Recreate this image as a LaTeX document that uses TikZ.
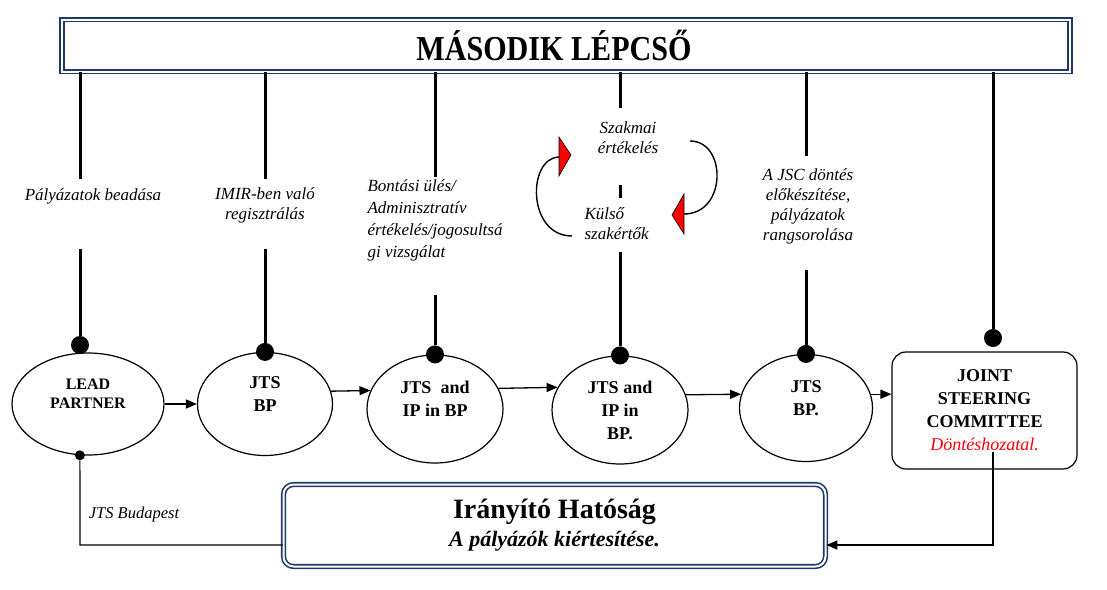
\documentclass[tikz,border=0pt]{standalone}
\usepackage{fontspec}
\setmainfont{Liberation Serif}
\newfontfamily\narrowserif[FakeStretch=0.86]{Liberation Serif}
\usetikzlibrary{shapes.geometric,arrows.meta,positioning}

\definecolor{boxnavy}{HTML}{1F3A68}
\definecolor{decisionred}{HTML}{FF0000}

\tikzset{
  stage/.style={ellipse,draw,line width=1.2pt,inner sep=0pt,align=center,
    font=\fontsize{18}{23}\selectfont\bfseries},
  raised/.style={text depth=20pt},
  stem/.style={line width=3pt},
  knob/.style={circle,fill=black,inner sep=0pt,minimum size=18pt},
  steplabel/.style={align=center,font=\fontsize{17}{20}\selectfont\itshape},
  flow/.style={line width=1.3pt,-{Triangle[length=11pt,width=9pt]}},
  frame/.style={draw=boxnavy,double=white,double distance=2pt,line width=1.6pt},
}

\begin{document}
\begin{tikzpicture}[x=1pt,y=-1pt]
\useasboundingbox (0,0) rectangle (1107,589);
% header
\node[frame,minimum width=1008pt,minimum height=52pt] (title) at (566,45.5)
  {\narrowserif\fontsize{35}{40}\selectfont\bfseries MÁSODIK LÉPCSŐ\hspace*{24pt}};

% stages
\node[stage,raised,minimum width=152pt,minimum height=102pt,font=\fontsize{16}{19}\selectfont\bfseries] (lp) at (88,404) {LEAD\\PARTNER};
\node[stage,raised,minimum width=135pt,minimum height=103pt] (jts1) at (265,404) {JTS\\BP};
\node[stage,raised,minimum width=136pt,minimum height=108pt] (ip1) at (435,409) {JTS~~and\\IP in BP};
\node[stage,minimum width=136pt,minimum height=108pt] (ip2) at (620,410) {JTS and\\IP in\\BP.};
\node[stage,raised,minimum width=133pt,minimum height=107pt] (jts2) at (806,408) {JTS\\BP.};
\node[draw,rounded corners=14pt,line width=1.2pt,minimum width=185pt,minimum height=117pt,align=center,
  font=\fontsize{18}{23}\selectfont\bfseries] (jsc) at (984.5,410.5)
  {JOINT\\STEERING\\COMMITTEE\\{\color{decisionred}\mdseries\itshape Döntéshozatal.}};
\node[frame,rounded corners=10pt,minimum width=542pt,minimum height=82pt,align=center,
  font=\fontsize{22}{28}\selectfont] (ih) at (554.5,525.5)
  {{\fontsize{28}{30}\selectfont\bfseries Irányító Hatóság}\\{\bfseries\itshape A pályázók kiértesítése.}};

% dots on the stages
\node[knob] (k1) at (80,345) {};
\node[knob] (k2) at (jts1.north) {};
\node[knob] (k3) at (ip1.north) {};
\node[knob] (k4) at (ip2.north) {};
\node[knob] (k5) at (jts2.north) {};
\node[knob] (k6) at (993,338) {};
\node[knob,minimum size=10pt] (lpfoot) at (lp.261) {};

% step texts
\node[steplabel] (s1) at (93,196) {Pályázatok beadása};
\node[steplabel] (s2) at (265,205) {IMIR-ben való\\regisztrálás};
\node[steplabel,align=left,anchor=west,font=\fontsize{17}{22}\selectfont\itshape] (s3) at (364,220)
  {Bontási ülés/\\Adminisztratív\\értékelés/jogosultsá\\gi vizsgálat};
\node[steplabel] (s4a) at (628,138) {Szakmai\\értékelés};
\node[steplabel,align=left,anchor=west] (s4b) at (581,224) {Külső\\szakértők};
\node[steplabel] (s5) at (808,206) {A JSC döntés\\előkészítése,\\pályázatok\\rangsorolása};
\node[font=\fontsize{16.5}{20}\selectfont\itshape] (jtsbud) at (134,515) {JTS Budapest};

% stems from the header
\coordinate (t1) at (80,179);  \coordinate (b1) at (80,249);
\coordinate (t2) at (265,179); \coordinate (b2) at (265,249);
\coordinate (t3) at (435,177); \coordinate (b3) at (435,295);
\coordinate (t4) at (620,108); \coordinate (b4) at (620,252);
\coordinate (m4a) at (620,185); \coordinate (m4b) at (620,198);
\coordinate (t5) at (806,156); \coordinate (b5) at (806,270);
\draw[stem] (title.south -| k1) -- (t1);
\draw[stem] (b1) -- (k1);
\draw[stem] (title.south -| k2) -- (t2);
\draw[stem] (b2) -- (k2);
\draw[stem] (title.south -| k3) -- (t3);
\draw[stem] (b3) -- (k3);
\draw[stem] (title.south -| k4) -- (t4);
\draw[stem] (m4a) -- (m4b);
\draw[stem] (b4) -- (k4);
\draw[stem] (title.south -| k5) -- (t5);
\draw[stem] (b5) -- (k5);
\draw[stem] (title.south -| k6) -- (k6);

% evaluation loop
\draw[line width=1.4pt] (572,236) .. controls (527,236) and (527,158) .. (559,157);
\filldraw[fill=red,draw=black,line width=0.6pt] (559,137) -- (571,155) -- (559,176) -- cycle;
\draw[line width=1.4pt] (690,141) .. controls (727,141) and (727,214) .. (684,214);
\filldraw[fill=red,draw=black,line width=0.6pt] (684,194) -- (672,215) -- (684,234) -- cycle;

% flow between stages
\draw[flow] (lp.east) -- (jts1.west);
\draw[flow] (jts1.11) -- (ip1.164);
\draw[flow] (ip1.18) -- (ip2.160);
\draw[flow] (ip2.13) -- (jts2.168);
\draw[flow] (jts2.12) -- (jts2.12 -| jsc.west);

% back to the managing authority
\coordinate (lcorner) at (80,545);
\coordinate (jscfoot) at (993,452);
\coordinate (rcorner) at (993,545);
\draw[line width=1.2pt] (lpfoot) -- (lcorner) -- (lcorner -| ih.west);
\draw[flow,line width=1.2pt] (jscfoot) -- (rcorner) -- (rcorner -| ih.east);
\end{tikzpicture}
\end{document}
